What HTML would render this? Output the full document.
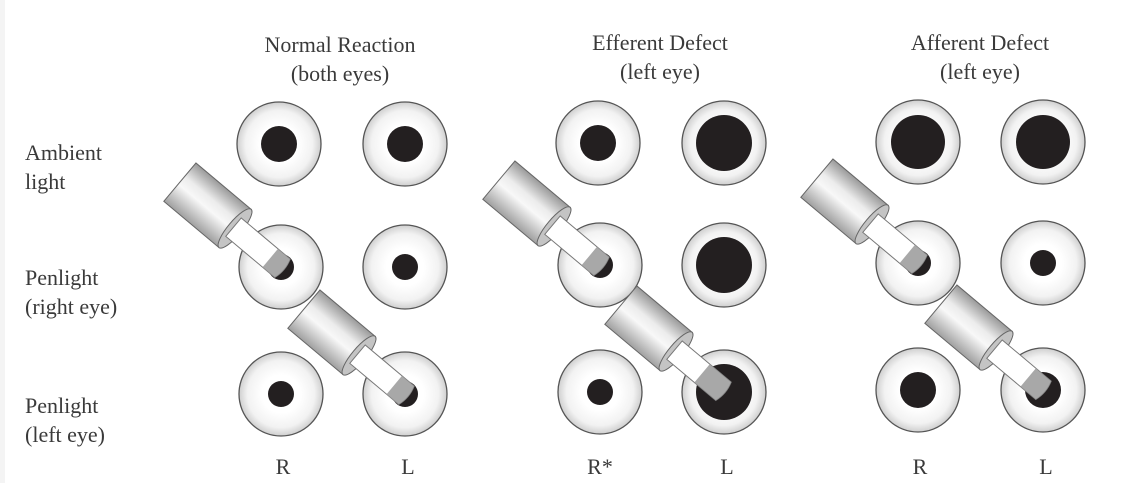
<!DOCTYPE html>
<html><head><meta charset="utf-8"><style>
html,body{margin:0;padding:0;background:#fff;}
svg{display:block;}
text{font-family:"Liberation Serif",serif;fill:#3a3a3a;}
</style></head><body>
<svg width="1127" height="483" viewBox="0 0 1127 483" xmlns="http://www.w3.org/2000/svg">
<defs>
<radialGradient id="iris" cx="50%" cy="50%" r="50%">
<stop offset="0.45" stop-color="#ffffff"/>
<stop offset="0.8" stop-color="#f2f2f2"/>
<stop offset="1" stop-color="#cfcfcf"/>
</radialGradient>
<linearGradient id="body" x1="0" y1="0" x2="0" y2="1">
<stop offset="0" stop-color="#9a9a9a"/>
<stop offset="0.35" stop-color="#ececec"/>
<stop offset="0.55" stop-color="#f8f8f8"/>
<stop offset="1" stop-color="#a0a0a0"/>
</linearGradient>
<g id="pen">
<rect x="-132" y="-25" width="72" height="50" fill="url(#body)" stroke="#666" stroke-width="1"/>
<ellipse cx="-60" cy="0" rx="7" ry="25" fill="#c4c4c4" stroke="#666" stroke-width="1"/>
<path d="M-62,-12 L2,-12 Q6,0 2,12 L-62,12 Z" fill="#fff" stroke="#777" stroke-width="1"/>
</g>
</defs>
<rect width="1127" height="483" fill="#fff"/>
<rect x="0" y="0" width="5" height="483" fill="#f4f4f4"/>

<g font-size="22" text-anchor="middle">
<text x="340" y="52">Normal Reaction</text>
<text x="340" y="81">(both eyes)</text>
<text x="660" y="50">Efferent Defect</text>
<text x="660" y="79">(left eye)</text>
<text x="980" y="50">Afferent Defect</text>
<text x="980" y="79">(left eye)</text>
</g>
<g font-size="22">
<text x="25" y="160">Ambient</text>
<text x="25" y="189">light</text>
<text x="25" y="285">Penlight</text>
<text x="25" y="314">(right eye)</text>
<text x="25" y="413">Penlight</text>
<text x="25" y="442">(left eye)</text>
</g>
<g font-size="22" text-anchor="middle">
<text x="283" y="474">R</text>
<text x="408" y="474">L</text>
<text x="600" y="474">R*</text>
<text x="727" y="474">L</text>
<text x="920" y="474">R</text>
<text x="1046" y="474">L</text>
</g>

<g stroke="#555" stroke-width="1.3">
<circle cx="279" cy="144" r="42" fill="url(#iris)"/><circle cx="279" cy="144" r="18" fill="#231f20" stroke="none"/>
<circle cx="405" cy="144" r="42" fill="url(#iris)"/><circle cx="405" cy="144" r="18" fill="#231f20" stroke="none"/>
<circle cx="281" cy="267" r="42" fill="url(#iris)"/><circle cx="281" cy="267" r="13" fill="#231f20" stroke="none"/>
<circle cx="405" cy="267" r="42" fill="url(#iris)"/><circle cx="405" cy="267" r="13" fill="#231f20" stroke="none"/>
<circle cx="281" cy="394" r="42" fill="url(#iris)"/><circle cx="281" cy="394" r="13" fill="#231f20" stroke="none"/>
<circle cx="405" cy="394" r="42" fill="url(#iris)"/><circle cx="405" cy="394" r="13" fill="#231f20" stroke="none"/>
<circle cx="598" cy="143" r="42" fill="url(#iris)"/><circle cx="598" cy="143" r="18" fill="#231f20" stroke="none"/>
<circle cx="724" cy="143" r="42" fill="url(#iris)"/><circle cx="724" cy="143" r="28" fill="#231f20" stroke="none"/>
<circle cx="600" cy="265" r="42" fill="url(#iris)"/><circle cx="600" cy="265" r="13" fill="#231f20" stroke="none"/>
<circle cx="724" cy="265" r="42" fill="url(#iris)"/><circle cx="724" cy="265" r="28" fill="#231f20" stroke="none"/>
<circle cx="600" cy="392" r="42" fill="url(#iris)"/><circle cx="600" cy="392" r="13" fill="#231f20" stroke="none"/>
<circle cx="724" cy="392" r="42" fill="url(#iris)"/><circle cx="724" cy="392" r="28" fill="#231f20" stroke="none"/>
<circle cx="918" cy="142" r="42" fill="url(#iris)"/><circle cx="918" cy="142" r="27" fill="#231f20" stroke="none"/>
<circle cx="1043" cy="142" r="42" fill="url(#iris)"/><circle cx="1043" cy="142" r="27" fill="#231f20" stroke="none"/>
<circle cx="918" cy="263" r="42" fill="url(#iris)"/><circle cx="918" cy="263" r="13" fill="#231f20" stroke="none"/>
<circle cx="1043" cy="263" r="42" fill="url(#iris)"/><circle cx="1043" cy="263" r="13" fill="#231f20" stroke="none"/>
<circle cx="918" cy="390" r="42" fill="url(#iris)"/><circle cx="918" cy="390" r="18" fill="#231f20" stroke="none"/>
<circle cx="1043" cy="390" r="42" fill="url(#iris)"/><circle cx="1043" cy="390" r="18" fill="#231f20" stroke="none"/>
</g>

<g transform="translate(281,267) rotate(40)"><use href="#pen"/><path d="M-14,-12 L2,-12 Q6,0 2,12 L-14,12 Z" fill="#999" opacity="0.85"/></g>
<g transform="translate(405,394) rotate(40)"><use href="#pen"/><path d="M-14,-12 L2,-12 Q6,0 2,12 L-14,12 Z" fill="#999" opacity="0.85"/></g>
<g transform="translate(600,265) rotate(40)"><use href="#pen"/><path d="M-14,-12 L2,-12 Q6,0 2,12 L-14,12 Z" fill="#999" opacity="0.85"/></g>
<g transform="translate(722,390) rotate(40)"><use href="#pen"/><path d="M-26,-12 L2,-12 Q6,0 2,12 L-26,12 Z" fill="#999" opacity="0.85"/></g>
<g transform="translate(918,263) rotate(40)"><use href="#pen"/><path d="M-14,-12 L2,-12 Q6,0 2,12 L-14,12 Z" fill="#999" opacity="0.85"/></g>
<g transform="translate(1042,389) rotate(40)"><use href="#pen"/><path d="M-18,-12 L2,-12 Q6,0 2,12 L-18,12 Z" fill="#999" opacity="0.85"/></g>
</svg>
</body></html>
